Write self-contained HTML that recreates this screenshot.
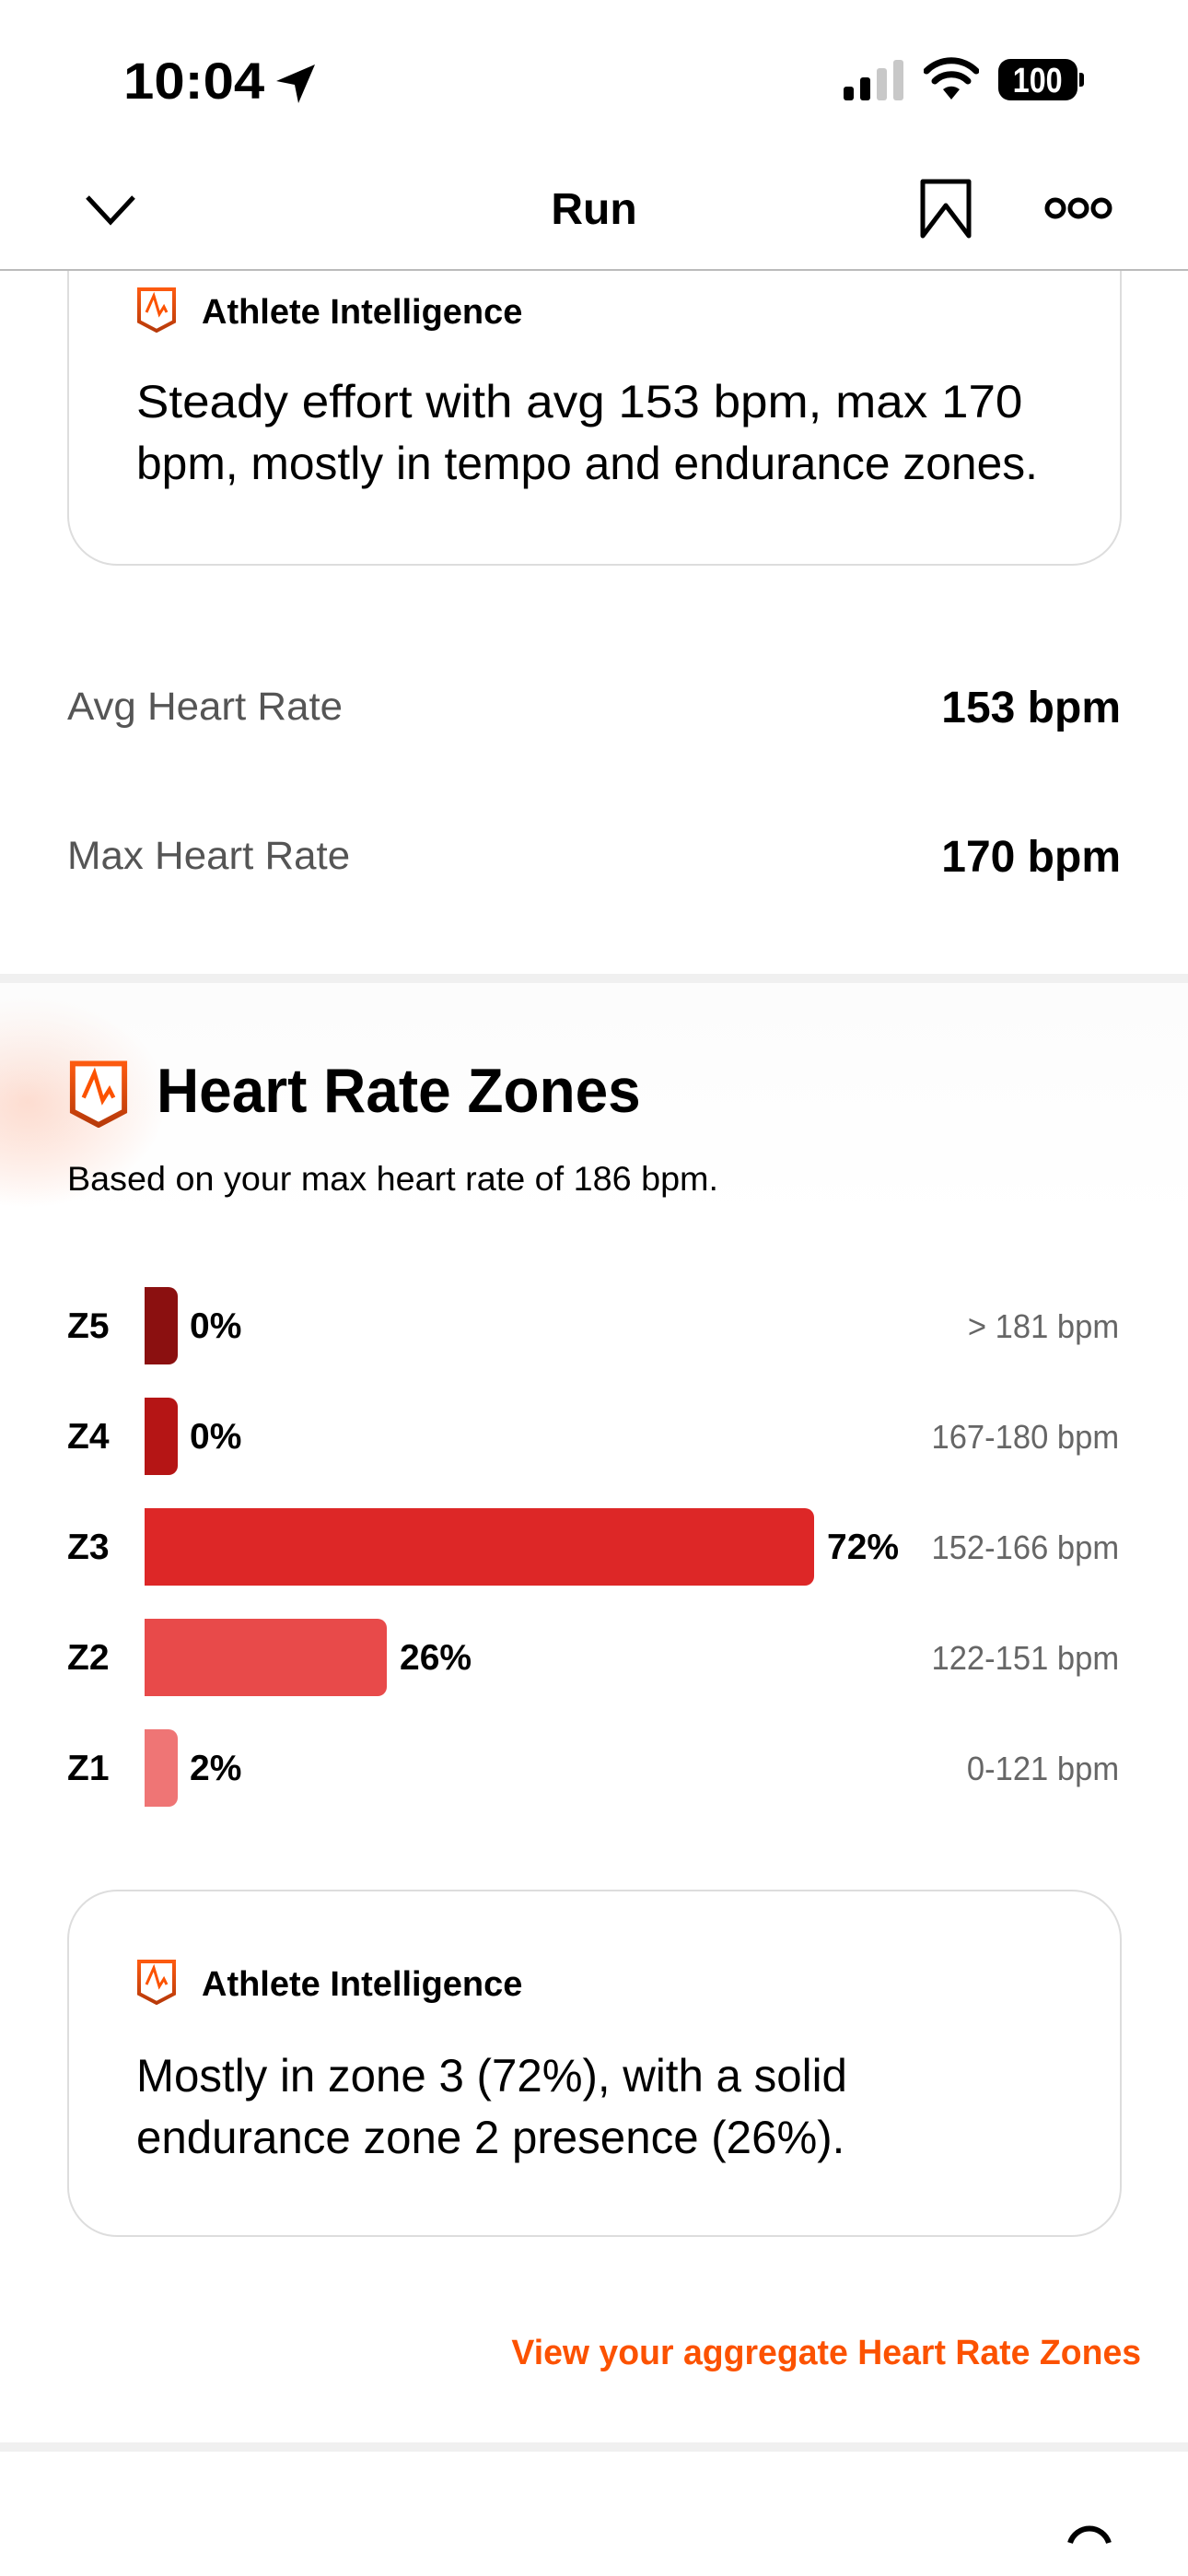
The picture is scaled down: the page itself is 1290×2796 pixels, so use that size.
<!DOCTYPE html>
<html><head><meta charset="utf-8"><style>
html,body{margin:0;padding:0;background:#fff;}
body{width:1290px;height:2796px;position:relative;overflow:hidden;font-family:"Liberation Sans",sans-serif;color:#000;}
.t{position:absolute;white-space:nowrap;line-height:1;}
.sx{display:inline-block;transform-origin:left center;}
.sr{display:inline-block;transform-origin:right center;}
.bar{position:absolute;left:157px;height:84px;border-radius:0 10px 10px 0;}
.lab{position:absolute;left:73px;font-weight:bold;font-size:39px;line-height:1;}
.pct{position:absolute;font-weight:bold;font-size:39px;line-height:1;}
.bpm{position:absolute;right:75px;font-size:36px;color:#666;line-height:1;}
.card{position:absolute;left:73px;width:1141px;border:2px solid #ddd;border-radius:54px;}
</style></head><body>
<!-- glow -->
<div style="position:absolute;left:-120px;top:1080px;width:300px;height:230px;border-radius:50%;background:radial-gradient(closest-side,rgba(252,120,70,0.35),rgba(252,120,70,0));"></div>
<div style="position:absolute;left:0;top:1067px;width:1290px;height:260px;background:linear-gradient(180deg,rgba(250,250,250,0.6),rgba(255,255,255,0));"></div>

<!-- card 1 -->
<div class="card" style="top:220px;height:390px;"></div>
<div style="position:absolute;left:0;top:0;width:1290px;height:292px;background:#fff;"></div>
<div style="position:absolute;left:0;top:292px;width:1290px;height:2px;background:#bbb;"></div>

<!-- status bar -->
<div class="t" style="left:134px;top:60px;font-size:56px;font-weight:bold;"><span class="sx" style="transform:scaleX(1.07)">10:04</span></div>
<svg style="position:absolute;left:298px;top:68px" width="46" height="46" viewBox="0 0 46 46"><path d="M44 2 L2 20 L22 24 L26 44 Z" fill="#000"/></svg>
<svg style="position:absolute;left:914px;top:64px" width="70" height="46"><rect x="2" y="30" width="11" height="15" rx="3" fill="#000"/><rect x="20" y="20" width="11" height="25" rx="3" fill="#000"/><rect x="38" y="10" width="11" height="35" rx="3" fill="#c8c8c8"/><rect x="56" y="1" width="11" height="44" rx="3" fill="#c8c8c8"/></svg>
<svg style="position:absolute;left:1003px;top:62px" width="60" height="48" viewBox="0 0 60 48"><path d="M30 46 L21 35 A14 14 0 0 1 39 35 Z" fill="#000"/><path d="M12 26 A26 26 0 0 1 48 26" stroke="#000" stroke-width="7" fill="none" stroke-linecap="round"/><path d="M3 15 A38 38 0 0 1 57 15" stroke="#000" stroke-width="7" fill="none" stroke-linecap="round"/></svg>
<div style="position:absolute;left:1084px;top:64px;width:86px;height:45px;background:#000;border-radius:13px;"></div>
<div style="position:absolute;left:1172px;top:79px;width:5px;height:15px;background:#000;border-radius:0 3px 3px 0;"></div>
<div class="t" style="left:1088px;top:69px;width:78px;text-align:center;color:#fff;font-weight:bold;font-size:38px;"><span style="display:inline-block;transform:scaleX(0.85)">100</span></div>

<!-- nav -->
<svg style="position:absolute;left:92px;top:210px" width="56" height="36"><path d="M3 4 L28 31 L53 4" stroke="#000" stroke-width="5" fill="none"/></svg>
<div class="t" style="left:0;width:1290px;top:204px;text-align:center;font-size:48px;font-weight:bold;">Run</div>
<svg style="position:absolute;left:998px;top:193px" width="58" height="68"><path d="M4 4 H54 V63 L29 30 L4 63 Z" stroke="#000" stroke-width="5" fill="none" stroke-linejoin="round"/></svg>
<svg style="position:absolute;left:1134px;top:212px" width="74" height="28"><circle cx="12" cy="14" r="9" stroke="#000" stroke-width="5" fill="none"/><circle cx="37" cy="14" r="9" stroke="#000" stroke-width="5" fill="none"/><circle cx="62" cy="14" r="9" stroke="#000" stroke-width="5" fill="none"/></svg>

<svg style="position:absolute;left:148px;top:311px" width="44" height="50" viewBox="0 0 44 50"><defs><linearGradient id="g" x1="0" y1="0" x2="0" y2="1"><stop offset="0" stop-color="#fc5a10"/><stop offset="1" stop-color="#b83a0a"/></linearGradient></defs><path d="M3 3 H41 V38 L22 48 L3 38 Z" stroke="url(#g)" stroke-width="4" fill="#fff"/><path d="M11 28 L19 10 L25 30 L30 22 L33 28" stroke="#fc5200" stroke-width="3" fill="none"/></svg>
<div class="t" style="left:219px;top:320px;font-size:38px;font-weight:bold;">Athlete Intelligence</div>
<div class="t" style="left:148px;top:411px;font-size:50px;"><span class="sx" style="transform:scaleX(1.06)">Steady effort with avg 153 bpm, max 170</span></div>
<div class="t" style="left:148px;top:478px;font-size:50px;"><span class="sx" style="transform:scaleX(0.995)">bpm, mostly in tempo and endurance zones.</span></div>

<!-- stats -->
<div class="t" style="left:73px;top:746px;font-size:43px;color:#555;"><span class="sx" style="transform:scaleX(1.02)">Avg Heart Rate</span></div>
<div class="t" style="right:73px;top:745px;font-size:48px;font-weight:bold;">153 bpm</div>
<div class="t" style="left:73px;top:908px;font-size:43px;color:#555;"><span class="sx" style="transform:scaleX(1.02)">Max Heart Rate</span></div>
<div class="t" style="right:73px;top:907px;font-size:48px;font-weight:bold;">170 bpm</div>

<div style="position:absolute;left:0;top:1057px;width:1290px;height:10px;background:#f0f0f0;"></div>

<!-- HR zones -->
<svg style="position:absolute;left:73px;top:1150px" width="68" height="74" viewBox="0 0 44 50"><path d="M3 3 H41 V38 L22 48 L3 38 Z" stroke="url(#g)" stroke-width="4" fill="#fff"/><path d="M11 28 L19 10 L25 30 L30 22 L33 28" stroke="#fc5200" stroke-width="3" fill="none"/></svg>
<div class="t" style="left:170px;top:1150px;font-size:68px;font-weight:bold;"><span class="sx" style="transform:scaleX(0.94)">Heart Rate Zones</span></div>
<div class="t" style="left:73px;top:1261px;font-size:37px;"><span class="sx" style="transform:scaleX(1.02)">Based on your max heart rate of 186 bpm.</span></div>

<div class="lab" style="top:1420px">Z5</div>
<div class="bar" style="top:1397px;width:36px;background:#8b1010;"></div>
<div class="pct" style="left:206px;top:1420px">0%</div>
<div class="bpm" style="top:1422px"><span class="sr" style="transform:scaleX(0.96)">&gt; 181 bpm</span></div>

<div class="lab" style="top:1540px">Z4</div>
<div class="bar" style="top:1517px;width:36px;background:#b51515;"></div>
<div class="pct" style="left:206px;top:1540px">0%</div>
<div class="bpm" style="top:1542px"><span class="sr" style="transform:scaleX(0.96)">167-180 bpm</span></div>

<div class="lab" style="top:1660px">Z3</div>
<div class="bar" style="top:1637px;width:727px;background:#dd2727;"></div>
<div class="pct" style="left:898px;top:1660px">72%</div>
<div class="bpm" style="top:1662px"><span class="sr" style="transform:scaleX(0.96)">152-166 bpm</span></div>

<div class="lab" style="top:1780px">Z2</div>
<div class="bar" style="top:1757px;width:263px;background:#e84a4a;"></div>
<div class="pct" style="left:434px;top:1780px">26%</div>
<div class="bpm" style="top:1782px"><span class="sr" style="transform:scaleX(0.96)">122-151 bpm</span></div>

<div class="lab" style="top:1900px">Z1</div>
<div class="bar" style="top:1877px;width:36px;background:#ef7575;"></div>
<div class="pct" style="left:206px;top:1900px">2%</div>
<div class="bpm" style="top:1902px"><span class="sr" style="transform:scaleX(0.96)">0-121 bpm</span></div>

<!-- card 2 -->
<div class="card" style="top:2051px;height:373px;"></div>
<svg style="position:absolute;left:148px;top:2126px" width="44" height="50" viewBox="0 0 44 50"><path d="M3 3 H41 V38 L22 48 L3 38 Z" stroke="url(#g)" stroke-width="4" fill="#fff"/><path d="M11 28 L19 10 L25 30 L30 22 L33 28" stroke="#fc5200" stroke-width="3" fill="none"/></svg>
<div class="t" style="left:219px;top:2135px;font-size:38px;font-weight:bold;">Athlete Intelligence</div>
<div class="t" style="left:148px;top:2228px;font-size:50px;"><span class="sx" style="transform:scaleX(0.985)">Mostly in zone 3 (72%), with a solid</span></div>
<div class="t" style="left:148px;top:2295px;font-size:50px;"><span class="sx" style="transform:scaleX(0.985)">endurance zone 2 presence (26%).</span></div>

<div class="t" style="right:51px;top:2535px;font-size:38px;font-weight:bold;color:#fc5200;"><span class="sr" style="transform:scaleX(0.985)">View your aggregate Heart Rate Zones</span></div>

<div style="position:absolute;left:0;top:2651px;width:1290px;height:10px;background:#f0f0f0;"></div>
<svg style="position:absolute;left:1158px;top:2740px" width="50" height="56"><path d="M4 20 A22 22 0 0 1 46 20" stroke="#000" stroke-width="6" fill="none"/></svg>
</body></html>
